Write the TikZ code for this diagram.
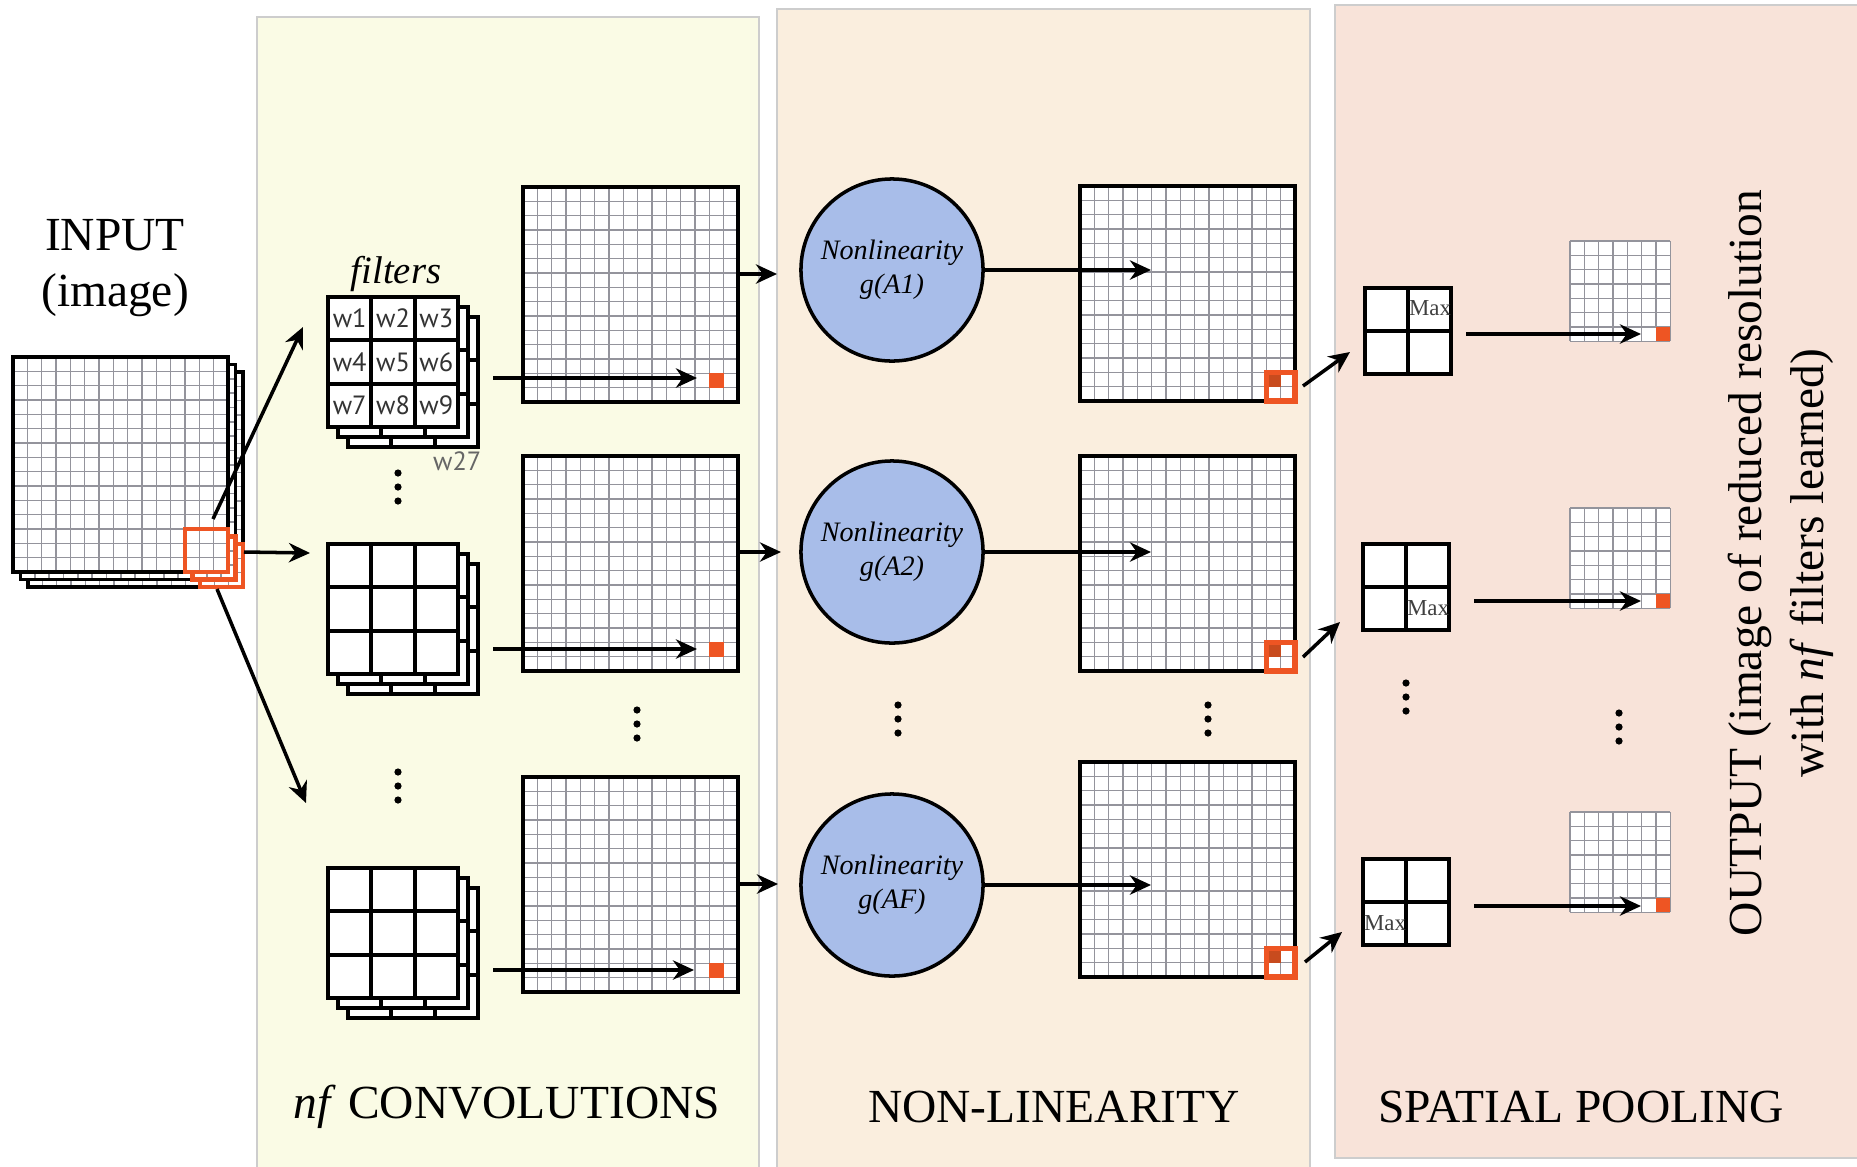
\documentclass[tikz,border=0pt]{standalone}
\usepackage{fontspec}
\setmainfont{Liberation Serif}
\newfontfamily\wfont{PT Sans}
\usetikzlibrary{arrows.meta}

\definecolor{convbg}{RGB}{250,251,229}
\definecolor{nlbg}{RGB}{250,238,222}
\definecolor{poolbg}{RGB}{248,227,217}
\definecolor{panelline}{RGB}{205,205,205}
\definecolor{neuron}{RGB}{168,189,233}
\definecolor{hot}{RGB}{238,85,35}
\definecolor{hotdark}{RGB}{200,75,30}
\definecolor{cellgray}{RGB}{148,148,156}

\newcommand{\cellw}{14.333}

% 像素网格：左上角 (#1,#2)，#3 格，每格宽 #4
\newcommand{\pixgrid}[4]{%
  \fill[white] (#1,#2) rectangle ++(#3*#4,#3*#4);
  \foreach \k in {0,...,#3}
    \draw[gridline] (#1+\k*#4,#2) -- ++(0,#3*#4)
                    (#1,#2+\k*#4) -- ++(#3*#4,0);
}

% 3x3 卷积核，三层叠放
\newcommand{\filterstack}[2]{%
  \foreach \d in {20,10,0} {
    \fill[white] (#1+\d,#2+\d) rectangle ++(130,130);
    \draw[filteredge] (#1+\d+43.33,#2+\d) -- ++(0,130)
                      (#1+\d+86.67,#2+\d) -- ++(0,130)
                      (#1+\d,#2+\d+43.33) -- ++(130,0)
                      (#1+\d,#2+\d+86.67) -- ++(130,0)
                      (#1+\d,#2+\d) rectangle ++(130,130);
  }
}

% 2x2 池化窗口
\newcommand{\poolbox}[2]{%
  \draw[filteredge, fill=white] (#1,#2) rectangle ++(86,86);
  \draw[filteredge] (#1+43,#2) -- ++(0,86) (#1,#2+43) -- ++(86,0);
}

% 竖排三个点
\newcommand{\vdotsat}[2]{%
  \foreach \t in {-14,0,14} \fill (#1,#2+\t) circle (0.036cm);
}

\begin{document}
\begin{tikzpicture}[x=0.01cm, y=-0.01cm, >={Stealth[length=6pt, width=5.5pt]},
    every node/.style={inner sep=0pt},
    panel/.style={draw=panelline, line width=0.5pt},
    gridline/.style={cellgray, line width=0.42pt},
    mapedge/.style={black, line width=1.1pt},
    filteredge/.style={black, line width=1.1pt},
    hotbox/.style={hot, line width=1.3pt},
    flow/.style={->, line width=1pt},
    neuronnode/.style={circle, draw, line width=1pt, fill=neuron, minimum size=1.82cm,
      align=center, font=\fontsize{8}{9.6}\selectfont\itshape},
    bigtext/.style={font=\fontsize{13.5}{16}\selectfont},
    wlabel/.style={font=\wfont\fontsize{7.5}{9}\selectfont, text=black!80},
    maxlabel/.style={font=\fontsize{6.5}{7}\selectfont, text=black!75}]

	% 1. 画布与三个背景面板
	\useasboundingbox (0,0) rectangle (1857,1166);
	\fill[white] (0,0) rectangle (1857,1166);
	\draw[panel, fill=convbg] (257,17) rectangle (759,1190);
	\draw[panel, fill=nlbg] (777,9) rectangle (1310,1190);
	\draw[panel, fill=poolbg] (1335,5) rectangle (1880,1158);

	% 2. 输入图像 (三个通道叠放)
	\foreach \d in {15,7.5,0} {
		\pixgrid{13+\d}{357+\d}{15}{\cellw}
		\draw[mapedge] (13+\d,357+\d) rectangle ++(215,215);
		\draw[hotbox] (13+\d+12*\cellw,357+\d+12*\cellw) rectangle ++(3*\cellw,3*\cellw);
	}
	\node[bigtext, align=center] (inputlabel) at (115,268) {INPUT\\(image)};

	% 3. 卷积核
	\filterstack{328}{297}
	\filterstack{328}{544}
	\filterstack{328}{868}
	\foreach \n in {1,...,9} {
		\pgfmathtruncatemacro\col{mod(\n-1,3)}
		\pgfmathtruncatemacro\row{(\n-1)/3}
		\node[wlabel] (w\n) at (328+21.7+\col*43.33,297+21.7+\row*43.33) {w\n};
	}
	\node[wlabel, anchor=east, text=black!60] (w27) at (482,461) {w27};
	\node[font=\fontsize{11}{13}\selectfont\itshape] (filterlabel) at (396,274) {filters};

	% 4. 卷积输出特征图
	\foreach \y in {187,456,777} {
		\pixgrid{523}{\y}{15}{\cellw}
		\fill[hot] (523+13*\cellw,\y+13*\cellw) rectangle ++(\cellw,\cellw);
		\draw[mapedge] (523,\y) rectangle ++(215,215);
	}

	% 5. 非线性单元与激活后特征图
	\node[neuronnode] (g1) at (892,270) {Nonlinearity\\g(A1)};
	\node[neuronnode] (g2) at (892,552) {Nonlinearity\\g(A2)};
	\node[neuronnode] (g3) at (892,885) {Nonlinearity\\g(AF)};
	\foreach \y in {186,456,762} {
		\pixgrid{1080}{\y}{15}{\cellw}
		\draw[mapedge] (1080,\y) rectangle ++(215,215);
		\fill[hotdark] (1080+13*\cellw,\y+13*\cellw) rectangle ++(\cellw,\cellw);
		\draw[hotbox, line width=1.5pt] (1080+13*\cellw,\y+13*\cellw) rectangle ++(2*\cellw,2*\cellw);
	}

	% 6. 池化窗口与输出小图
	\poolbox{1365}{288}
	\poolbox{1363}{544}
	\poolbox{1363}{859}
	\node[maxlabel] (max1) at (1430,308) {Max};
	\node[maxlabel] (max2) at (1428,608) {Max};
	\node[maxlabel] (max3) at (1385,923) {Max};
	\foreach \y in {241,508,812} {
		\pixgrid{1570}{\y}{7}{\cellw}
		\fill[white] (1570+5*\cellw+0.5,\y+6*\cellw+0.5) rectangle ++(\cellw,\cellw-1);
		\fill[hot] (1570+6*\cellw,\y+6*\cellw) rectangle ++(\cellw,\cellw);
	}

	% 7. 箭头
	% 输入 -> 卷积核
	\coordinate (in1) at (213,519);
	\coordinate (in2) at (244,552);
	\coordinate (in3) at (217,589);
	\coordinate (k1) at (303,327);
	\coordinate (k2) at (310,553);
	\coordinate (k3) at (306,803);
	\draw[flow] (in1) -- (k1);
	\draw[flow] (in2) -- (k2);
	\draw[flow] (in3) -- (k3);
	% 卷积核 -> 特征图中的一个像素
	\coordinate (k1out) at (493,378);
	\coordinate (k2out) at (493,649);
	\coordinate (k3out) at (493,970);
	\coordinate (c1px) at (697,378);
	\coordinate (c2px) at (697,649);
	\coordinate (c3px) at (694,970);
	\draw[flow] (k1out) -- (c1px);
	\draw[flow] (k2out) -- (c2px);
	\draw[flow] (k3out) -- (c3px);
	% 特征图 -> 非线性
	\coordinate (c1r) at (738,274);
	\coordinate (c2r) at (738,552);
	\coordinate (c3r) at (738,884);
	\coordinate (g1in) at (777,274);
	\coordinate (g2in) at (781,552);
	\coordinate (g3in) at (778,884);
	\draw[flow] (c1r) -- (g1in);
	\draw[flow] (c2r) -- (g2in);
	\draw[flow] (c3r) -- (g3in);
	% 非线性 -> 激活后特征图
	\coordinate (a1) at (1151,270);
	\coordinate (a2) at (1151,552);
	\coordinate (a3) at (1151,885);
	\draw[flow] (g1.east) -- (a1);
	\draw[flow] (g2.east) -- (a2);
	\draw[flow] (g3.east) -- (a3);
	% 2x2 区域 -> 池化窗口
	\coordinate (r1) at (1303,386);
	\coordinate (r2) at (1303,657);
	\coordinate (r3) at (1305,962);
	\coordinate (p1) at (1350,352);
	\coordinate (p2) at (1340,622);
	\coordinate (p3) at (1342,932);
	\draw[flow] (r1) -- (p1);
	\draw[flow] (r2) -- (p2);
	\draw[flow] (r3) -- (p3);
	% 池化窗口 -> 输出像素
	\coordinate (p1out) at (1466,334);
	\coordinate (p2out) at (1474,601);
	\coordinate (p3out) at (1474,906);
	\coordinate (o1) at (1641,334);
	\coordinate (o2) at (1641,601);
	\coordinate (o3) at (1641,906);
	\draw[flow] (p1out) -- (o1);
	\draw[flow] (p2out) -- (o2);
	\draw[flow] (p3out) -- (o3);

	% 8. 省略号
	\vdotsat{398}{487}
	\vdotsat{398}{786}
	\vdotsat{637}{724}
	\vdotsat{898}{719}
	\vdotsat{1208}{719}
	\vdotsat{1406}{697}
	\vdotsat{1619}{727}

	% 9. 各阶段标题
	\node[bigtext] (convlabel) at (507,1107) {\textit{nf} CONVOLUTIONS};
	\node[bigtext] (nllabel) at (1054,1107) {NON-LINEARITY};
	\node[bigtext] (poollabel) at (1581,1107) {SPATIAL POOLING};
	\node[rotate=90, align=center, font=\fontsize{13.5}{17.6}\selectfont] (outlabel) at (1781,563)
		{OUTPUT (image of reduced resolution\\with \textit{nf} filters learned)};

\end{tikzpicture}
\end{document}
